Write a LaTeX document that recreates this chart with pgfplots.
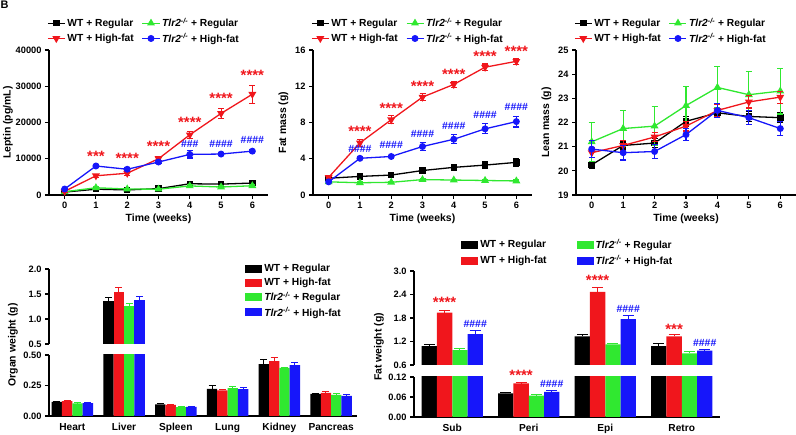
\documentclass[border=0pt]{standalone}
\usepackage{pgfplots}
\pgfplotsset{compat=1.18}
\usepackage{pgfplotstable}
\usepackage{fontspec}
\setmainfont{Liberation Sans}
\definecolor{cblk}{RGB}{0,0,0}
\definecolor{cred}{RGB}{240,22,28}
\definecolor{cgrn}{RGB}{48,232,48}
\definecolor{cblu}{RGB}{22,22,250}
\newcommand{\fs}[1]{\fontsize{#1}{#1}\selectfont}
\newcommand{\tlr}{\textit{Tlr2}\textsuperscript{\textit{-/-}}}

\pgfplotstableread{
x blk eblk red ered grn egrn blu eblu
0 0.115 0.007 0.122 0.004 0.103 0.005 0.106 0.003
1 1.35 0.07 1.54 0.09 1.26 0.04 1.37 0.085
2 0.096 0.010 0.092 0.006 0.072 0.003 0.074 0.003
3 0.222 0.027 0.210 0.010 0.228 0.010 0.220 0.012
4 0.426 0.040 0.450 0.027 0.394 0.006 0.418 0.020
5 0.181 0.006 0.190 0.012 0.173 0.008 0.165 0.015
}\organ

\pgfplotstableread{
x blk eblk red ered grn egrn blu eblu
0 1.08 0.05 1.94 0.06 0.98 0.05 1.39 0.08
1 0.071 0.003 0.101 0.002 0.064 0.003 0.075 0.004
2 1.33 0.06 2.47 0.10 1.125 0.035 1.77 0.085
3 1.08 0.07 1.33 0.05 0.90 0.035 0.97 0.03
}\fat

\tikzset{
  stars/.style={text=cred, font=\fs{15}\bfseries, inner sep=0pt},
  hashes/.style={text=cblu, font=\fs{10.5}\bfseries, inner sep=0pt},
}

\pgfplotsset{
  base/.style={
    scale only axis,
    axis line style={line width=1.2bp},
    every tick/.style={line width=1.1bp, black},
    tick align=outside,
    major tick length=4bp,
    /pgf/number format/assume math mode=true,
    /pgf/number format/1000 sep={},
    scaled y ticks=false,
    tick label style={font=\fs{9.3}\bfseries},
    label style={font=\fs{10.5}\bfseries},
    legend style={font=\fs{10.3}\bfseries, draw=none, fill=none},
    legend cell align=left,
    clip mode=individual,
  },
  topaxis/.style={base, width=219bp, height=145bp,
    axis x line*=bottom, axis y line*=left,
    xmin=-0.5, xmax=6.5, xtick={0,...,6},
    xlabel={Time (weeks)},
    xlabel style={yshift=2bp},
    legend columns=2,
    legend style={at={(axis description cs:-0.023,1.015)}, anchor=south west, row sep=1bp,
      /tikz/every even column/.append style={column sep=6bp}},
    error bars/y dir=both, error bars/y explicit,
    error bars/error bar style={line width=1.1bp, solid},
    error bars/error mark options={rotate=90, mark size=3bp, line width=1.1bp, solid},
  },
  sblk/.style={color=cblk, line width=1.3bp, mark=square*, mark size=2.6bp, mark options={solid}},
  sgrn/.style={color=cgrn, line width=1.3bp, mark=triangle*, mark size=3.3bp, mark options={solid}},
  sred/.style={color=cred, line width=1.3bp, mark=triangle*, mark size=3.3bp, mark options={solid, rotate=180}},
  sblu/.style={color=cblu, line width=1.3bp, mark=*, mark size=2.8bp, mark options={solid}},
  barbase/.style={base, ybar, bar width=0.2,
    error bars/y dir=plus, error bars/y explicit,
    axis y line*=left,
    legend image code/.code={\fill[##1] (0bp,-4bp) rectangle (17bp,4bp);},
  },
  bs/.style n args={3}{fill=#1, draw=none, bar shift=#2,
    error bars/error bar style={draw=#1, line width=1bp, solid},
    error bars/error mark options={draw=#1, rotate=90, mark size=#3, line width=1bp, solid}},
}

\begin{document}
\begin{tikzpicture}
\useasboundingbox (0,0) rectangle (796bp,435bp);
\node[font=\fs{11}\bfseries, anchor=north west, inner sep=0.5bp] at (0bp,435bp) {B};

% ---------- Leptin ----------
\begin{axis}[topaxis, at={(49bp,240bp)}, anchor=south west,
  ymin=0, ymax=40000, ytick={0,10000,...,40000}, ylabel={Leptin (pg/mL)},
  ylabel shift=-4bp]
\addplot[sblk] coordinates {(0,800)+-(0,200) (1,1600)+-(0,300) (2,1400)+-(0,300) (3,1750)+-(0,250) (4,3100)+-(0,400) (5,3000)+-(0,400) (6,3300)+-(0,400)};
\addlegendentry{WT + Regular}
\addplot[sgrn] coordinates {(0,900)+-(0,200) (1,2000)+-(0,300) (2,1650)+-(0,250) (3,1600)+-(0,250) (4,2500)+-(0,300) (5,2200)+-(0,300) (6,2550)+-(0,300)};
\addlegendentry{\tlr{} + Regular}
\addplot[sred] coordinates {(0,1000)+-(0,200) (1,5300)+-(0,400) (2,6000)+-(0,500) (3,10000)+-(0,600) (4,16600)+-(0,1000) (5,22500)+-(0,1400) (6,27800)+-(0,2500)};
\addlegendentry{WT + High-fat}
\addplot[sblu] coordinates {(0,1650)+-(0,200) (1,8000)+-(0,500) (2,7100)+-(0,400) (3,9100)+-(0,500) (4,11200)+-(0,1000) (5,11300)+-(0,400) (6,12100)+-(0,400)};
\addlegendentry{\tlr{} + High-fat}
\node[stars] at (axis cs:1,10760) {***};
\node[stars] at (axis cs:2,10100) {****};
\node[stars] at (axis cs:3,13330) {****};
\node[stars] at (axis cs:4,20140) {****};
\node[stars] at (axis cs:5,26670) {****};
\node[stars] at (axis cs:6,33100) {****};
\node[hashes] at (axis cs:4,14070) {\#\#\#};
\node[hashes] at (axis cs:5,14070) {\#\#\#\#};
\node[hashes] at (axis cs:6,15170) {\#\#\#\#};
\end{axis}

% ---------- Fat mass ----------
\begin{axis}[topaxis, at={(313bp,240bp)}, anchor=south west,
  ymin=0, ymax=16, ytick={0,4,...,16}, ylabel={Fat mass (g)}]
\addplot[sblk] coordinates {(0,1.85)+-(0,0.15) (1,2.05)+-(0,0.2) (2,2.2)+-(0,0.2) (3,2.7)+-(0,0.25) (4,3.05)+-(0,0.25) (5,3.3)+-(0,0.35) (6,3.6)+-(0,0.4)};
\addlegendentry{WT + Regular}
\addplot[sgrn] coordinates {(0,1.45)+-(0,0.1) (1,1.35)+-(0,0.1) (2,1.4)+-(0,0.1) (3,1.7)+-(0,0.1) (4,1.65)+-(0,0.1) (5,1.6)+-(0,0.1) (6,1.55)+-(0,0.1)};
\addlegendentry{\tlr{} + Regular}
\addplot[sred] coordinates {(0,1.95)+-(0,0.15) (1,5.75)+-(0,0.35) (2,8.3)+-(0,0.45) (3,10.8)+-(0,0.4) (4,12.2)+-(0,0.35) (5,14.1)+-(0,0.35) (6,14.75)+-(0,0.35)};
\addlegendentry{WT + High-fat}
\addplot[sblu] coordinates {(0,1.45)+-(0,0.1) (1,4.05)+-(0,0.15) (2,4.25)+-(0,0.15) (3,5.35)+-(0,0.4) (4,6.15)+-(0,0.5) (5,7.3)+-(0,0.55) (6,8.1)+-(0,0.6)};
\addlegendentry{\tlr{} + High-fat}
\node[stars] at (axis cs:1,6.99) {****};
\node[stars] at (axis cs:2,9.56) {****};
\node[stars] at (axis cs:3,12.03) {****};
\node[stars] at (axis cs:4,13.35) {****};
\node[stars] at (axis cs:5,15.26) {****};
\node[stars] at (axis cs:6,15.82) {****};
\node[hashes] at (axis cs:1,5.04) {\#\#\#\#};
\node[hashes] at (axis cs:2,5.48) {\#\#\#\#};
\node[hashes] at (axis cs:3,6.69) {\#\#\#\#};
\node[hashes] at (axis cs:4,7.65) {\#\#\#\#};
\node[hashes] at (axis cs:5,8.79) {\#\#\#\#};
\node[hashes] at (axis cs:6,9.67) {\#\#\#\#};
\end{axis}

% ---------- Lean mass ----------
\begin{axis}[topaxis, at={(576bp,240bp)}, anchor=south west, width=220bp,
  ymin=19, ymax=25, ytick={19,...,25}, ylabel={Lean mass (g)}]
\addplot[sblk] coordinates {(0,20.25)+-(0,0.15) (1,21.05)+-(0,0.15) (2,21.15)+-(0,0.2) (3,22.05)+-(0,0.2) (4,22.4)+-(0,0.2) (5,22.25)+-(0,0.2) (6,22.2)+-(0,0.2)};
\addlegendentry{WT + Regular}
\addplot[sgrn] coordinates {(0,21.2)+-(0,0.8) (1,21.75)+-(0,0.75) (2,21.85)+-(0,0.8) (3,22.7)+-(0,0.8) (4,23.45)+-(0,0.85) (5,23.15)+-(0,0.95) (6,23.3)+-(0,0.95)};
\addlegendentry{\tlr{} + Regular}
\addplot[sred] coordinates {(0,20.75)+-(0,0.2) (1,21.05)+-(0,0.2) (2,21.4)+-(0,0.2) (3,21.85)+-(0,0.2) (4,22.5)+-(0,0.25) (5,22.85)+-(0,0.25) (6,23.05)+-(0,0.25)};
\addlegendentry{WT + High-fat}
\addplot[sblu] coordinates {(0,20.9)+-(0,0.35) (1,20.75)+-(0,0.3) (2,20.8)+-(0,0.3) (3,21.5)+-(0,0.25) (4,22.5)+-(0,0.3) (5,22.2)+-(0,0.3) (6,21.75)+-(0,0.3)};
\addlegendentry{\tlr{} + High-fat}
\end{axis}

% ---------- Organ weight (upper) ----------
\begin{axis}[barbase, at={(49bp,91bp)}, anchor=south west, width=308bp, height=75bp,
  xmin=-0.45, xmax=5.5, axis x line=none,
  ymin=0.5, ymax=2.0, ytick={0.5,1.0,1.5,2.0},
  restrict y to domain=0.5:100, unbounded coords=discard,
  yticklabel style={/pgf/number format/.cd, fixed, fixed zerofill, precision=1},
  legend style={at={(axis description cs:0.627,1.12)}, anchor=north west, row sep=1bp}]
\addplot[bs={cblk}{-0.3}{3.5bp}] table[x=x, y=blk, y error=eblk] {\organ};
\addlegendentry{WT + Regular}
\addplot[bs={cred}{-0.1}{3.5bp}] table[x=x, y=red, y error=ered] {\organ};
\addlegendentry{WT + High-fat}
\addplot[bs={cgrn}{0.1}{3.5bp}] table[x=x, y=grn, y error=egrn] {\organ};
\addlegendentry{\tlr{} + Regular}
\addplot[bs={cblu}{0.3}{3.5bp}] table[x=x, y=blu, y error=eblu] {\organ};
\addlegendentry{\tlr{} + High-fat}
\end{axis}

% ---------- Organ weight (lower) ----------
\begin{axis}[barbase, at={(49bp,19bp)}, anchor=south west, width=308bp, height=61bp,
  xmin=-0.45, xmax=5.5, axis x line*=bottom,
  xtick={0,...,5}, xticklabels={Heart,Liver,Spleen,Lung,Kidney,Pancreas},
  xtick style={draw=none}, xticklabel style={font=\fs{10.2}\bfseries},
  ymin=0, ymax=0.5, ytick={0,0.25,0.5},
  yticklabel style={/pgf/number format/.cd, fixed, fixed zerofill, precision=2}]
\addplot[bs={cblk}{-0.3}{3.5bp}] table[x=x, y=blk, y error=eblk] {\organ};
\addplot[bs={cred}{-0.1}{3.5bp}] table[x=x, y=red, y error=ered] {\organ};
\addplot[bs={cgrn}{0.1}{3.5bp}] table[x=x, y=grn, y error=egrn] {\organ};
\addplot[bs={cblu}{0.3}{3.5bp}] table[x=x, y=blu, y error=eblu] {\organ};
\end{axis}
\node[rotate=90, font=\fs{10.5}\bfseries] at (13bp,90bp) {Organ weight (g)};

% ---------- Fat weight (upper) ----------
\begin{axis}[barbase, at={(414bp,70bp)}, anchor=south west, width=306bp, height=94bp,
  xmin=-0.5, xmax=3.5, axis x line=none,
  ymin=0.6, ymax=3.0, ytick={0.6,1.2,...,3.0},
  restrict y to domain=0.6:100, unbounded coords=discard,
  yticklabel style={/pgf/number format/.cd, fixed, fixed zerofill, precision=1},
  legend columns=2,
  legend style={at={(axis description cs:0.144,1.01)}, anchor=south west, row sep=1.5bp,
    /tikz/every even column/.append style={column sep=28bp}}]
\addplot[bs={cblk}{-0.3}{5.5bp}] table[x=x, y=blk, y error=eblk] {\fat};
\addlegendentry{WT + Regular}
\addplot[bs={cgrn}{0.1}{5.5bp}] table[x=x, y=grn, y error=egrn] {\fat};
\addlegendentry{\tlr{} + Regular}
\addplot[bs={cred}{-0.1}{5.5bp}] table[x=x, y=red, y error=ered] {\fat};
\addlegendentry{WT + High-fat}
\addplot[bs={cblu}{0.3}{5.5bp}] table[x=x, y=blu, y error=eblu] {\fat};
\addlegendentry{\tlr{} + High-fat}
\node[stars] at (axis cs:-0.1,2.21) {****};
\node[hashes] at (axis cs:0.3,1.66) {\#\#\#\#};
\node[stars] at (axis cs:1.9,2.75) {****};
\node[hashes] at (axis cs:2.3,2.02) {\#\#\#\#};
\node[stars] at (axis cs:2.9,1.52) {***};
\node[hashes] at (axis cs:3.3,1.17) {\#\#\#\#};
\end{axis}

% ---------- Fat weight (lower) ----------
\begin{axis}[barbase, at={(414bp,18bp)}, anchor=south west, width=306bp, height=40bp,
  xmin=-0.5, xmax=3.5, axis x line*=bottom,
  xtick={0,...,3}, xticklabels={Sub,Peri,Epi,Retro},
  xtick style={draw=none}, xticklabel style={font=\fs{10.2}\bfseries},
  ymin=0, ymax=0.12, ytick={0,0.06,0.12},
  yticklabel style={/pgf/number format/.cd, fixed, fixed zerofill, precision=2}]
\addplot[bs={cblk}{-0.3}{5.5bp}] table[x=x, y=blk, y error=eblk] {\fat};
\addplot[bs={cred}{-0.1}{5.5bp}] table[x=x, y=red, y error=ered] {\fat};
\addplot[bs={cgrn}{0.1}{5.5bp}] table[x=x, y=grn, y error=egrn] {\fat};
\addplot[bs={cblu}{0.3}{5.5bp}] table[x=x, y=blu, y error=eblu] {\fat};
\node[stars] at (axis cs:0.9,0.125) {****};
\node[hashes] at (axis cs:1.3,0.098) {\#\#\#\#};
\end{axis}
\node[rotate=90, font=\fs{10.5}\bfseries] at (379bp,88bp) {Fat weight (g)};
\end{tikzpicture}
\end{document}
